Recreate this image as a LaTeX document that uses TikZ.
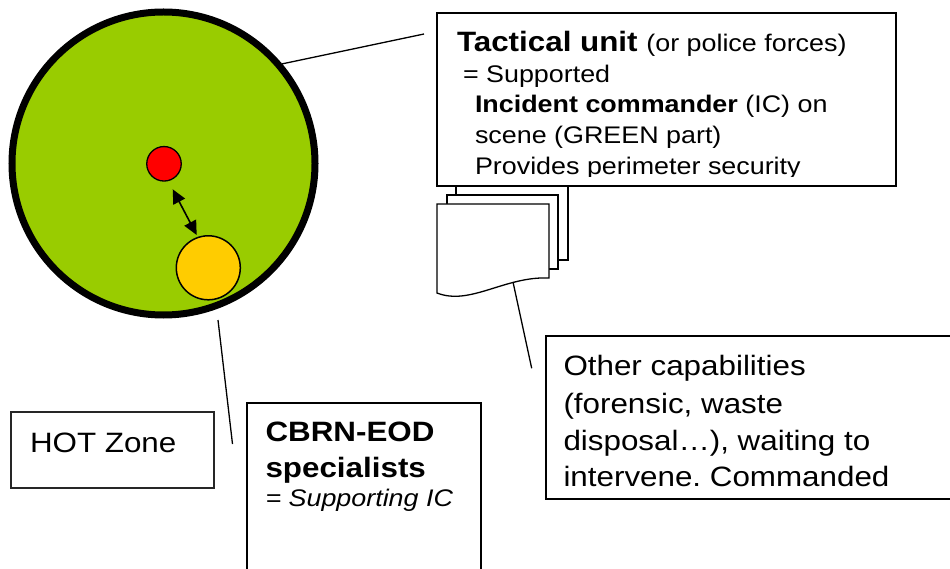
\documentclass[tikz,border=0pt]{standalone}
\usepackage{fontspec}
\setmainfont{Liberation Sans}[FakeStretch=1.12]
\usetikzlibrary{arrows.meta}
\definecolor{zonegreen}{HTML}{99CC00}
\definecolor{hotred}{HTML}{FF0000}
\definecolor{eodyellow}{HTML}{FFCC00}
\newcommand\bigsize{\fontsize{28}{34}\selectfont}
\newcommand\smallsize{\fontsize{24}{29}\selectfont}
\frenchspacing

\begin{document}
\begin{tikzpicture}[x=1pt,y=-1pt,
  >={Triangle[length=14pt,width=13pt]},
  frame/.style={draw, fill=white, line width=1.8pt, inner sep=0, rectangle},
  txt/.style={anchor=base west, inner sep=0, outer sep=0},
  lead/.style={line width=1.3pt},
  page/.style={draw, fill=white, line width=1.3pt}]
\useasboundingbox (0,0) rectangle (950,569);
\fill[white] (0,0) rectangle (950,569);

% the zone with its two units
\node[circle, draw, line width=7pt, fill=zonegreen, minimum size=303pt, inner sep=0] (zone) at (163.5,163.5) {};
\node[circle, draw, line width=1.3pt, fill=hotred, minimum size=34.5pt, inner sep=0] (ic) at (164,163.8) {};
\node[circle, draw, line width=1.5pt, fill=eodyellow, minimum size=64pt, inner sep=0] (eod) at (208.3,267.8) {};
\coordinate (arA) at (172.7,189.3);
\coordinate (arB) at (196.7,235);
\draw[line width=1.6pt, <->] (arA) -- (arB);

% stack of documents
\draw[page] (456,180) rectangle (568,260);
\draw[page] (447,195) rectangle (558,269);
\draw[page] (437,204) -- (549,204) -- (549,278)
  .. controls (505,276) and (470,306) .. (437,293) -- cycle;

% tactical unit box
\node[frame, line width=1.6pt, minimum width=459pt, minimum height=173pt] (tac) at (666.5,99.5) {};
\begin{scope}
  \clip (437,13) rectangle (896,176.5);
  \node[txt] (tacA) at (457,52) {\bigsize\bfseries Tactical unit \smallsize\mdseries(or police forces)};
  \node[txt] (tacB) at (463,83) {\smallsize = Supported};
  \node[txt] (tacC) at (475,113) {\smallsize\textbf{Incident commander} (IC) on};
  \node[txt] (tacD) at (475,144) {\smallsize scene (GREEN part)};
  \node[txt] (tacE) at (475,175) {\smallsize Provides perimeter security};
\end{scope}

% other capabilities box
\node[frame, line width=2pt, minimum width=409pt, minimum height=163pt] (other) at (750.5,417.5) {};
\node[txt] (othA) at (563.5,375.7) {\bigsize Other capabilities};
\node[txt] (othB) at (563.5,413) {\bigsize (forensic, waste};
\node[txt] (othC) at (563.5,450) {\bigsize disposal…), waiting to};
\node[txt] (othD) at (563.5,486.7) {\bigsize intervene. Commanded};

% hot zone label
\node[frame, draw=black!85, line width=1.1pt, minimum width=203pt, minimum height=76pt] (hot) at (112.5,450) {};
\node[txt] (hotT) at (30,452.3) {\bigsize HOT Zone};

% CBRN-EOD specialists box
\node[frame, line width=2pt, minimum width=234pt, minimum height=177pt] (cbrn) at (364,491.5) {};
\node[txt] (cbA) at (265.5,441.7) {\bigsize\bfseries CBRN-EOD};
\node[txt] (cbB) at (265.5,477) {\bigsize\bfseries specialists};
\node[txt] (cbC) at (265.5,506.5) {\smallsize\itshape = Supporting IC};

% leader lines
\coordinate (tacEnd) at (424,34);
\draw[lead] (zone.40) -- (tacEnd);
\coordinate (zoneFoot) at (218,320);
\coordinate (cbrnTip) at (232.5,444);
\draw[lead] (zoneFoot) -- (cbrnTip);
\coordinate (docFoot) at (513,282);
\coordinate (otherTip) at (531.7,368.3);
\draw[lead] (docFoot) -- (otherTip);
\end{tikzpicture}
\end{document}
